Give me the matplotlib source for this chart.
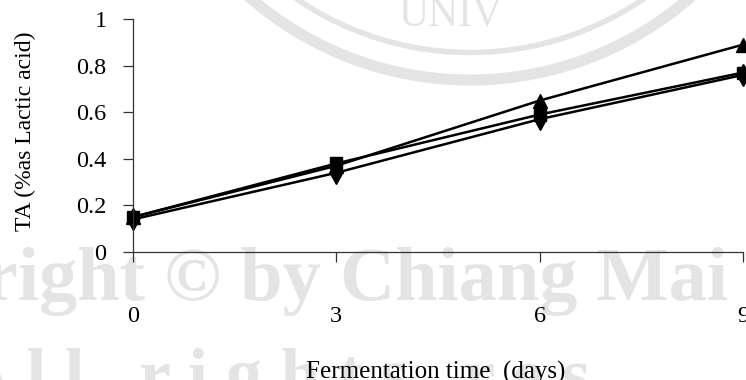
import numpy as np
import matplotlib.pyplot as plt
from matplotlib.patches import Arc

# TA over fermentation time, three treatments
days = [0, 3, 6, 9]
ta_tri = [0.15, 0.37, 0.65, 0.89]
ta_sq = [0.15, 0.38, 0.59, 0.77]
ta_dia = [0.14, 0.34, 0.57, 0.76]

yticks = [0, 0.2, 0.4, 0.6, 0.8, 1]
ytick_labels = ["0", "0.2", "0.4", "0.6", "0.8", "1"]

W, H = 746, 380
plt.rcParams['font.family'] = ['Liberation Serif', 'DejaVu Serif']

fig = plt.figure(figsize=(W / 100, H / 100), dpi=100)

# background watermark
wm = '#e4e4e4'
bg = fig.add_axes([0, 0, 1, 1], zorder=0)
bg.set_xlim(0, W)
bg.set_ylim(H, 0)
bg.axis('off')
bg.add_patch(Arc((470, -255), 670, 670, theta1=0, theta2=180, lw=8, color=wm))
bg.add_patch(Arc((470, -255), 615, 615, theta1=0, theta2=180, lw=4, color=wm))
bg.text(450, -4, "UNIV", ha='center', va='top', fontsize=30, color=wm)
bg.text(-190, 300, "Copyright \u00a9 by Chiang Mai", ha='left', va='baseline',
        fontsize=55, fontweight='bold', color=wm)
bg.text(-40, 398, "A l l   r i g h t s   r e s", ha='left', va='baseline',
        fontsize=52, fontweight='bold', color=wm)

ax = fig.add_axes([133 / W, 1 - 252 / H, 610 / W, 233 / H], zorder=1)
ax.patch.set_alpha(0)

ax.plot(days, ta_tri, color='black', lw=1.8, marker='^', ms=10, clip_on=False)
ax.plot(days, ta_sq, color='black', lw=1.8, marker='s', ms=9, clip_on=False)
ax.plot(days, ta_dia, color='black', lw=1.8, marker='d', ms=11, clip_on=False)

ax.set_xlim(0, 9)
ax.set_ylim(0, 1)
ax.set_xticks(days)
ax.set_xticklabels([str(d) for d in days])
ax.set_yticks(yticks)
ax.set_yticklabels(ytick_labels)

for s in ['top', 'right']:
    ax.spines[s].set_visible(False)
for s in ['left', 'bottom']:
    ax.spines[s].set_linewidth(0.9)
    ax.spines[s].set_color('#333333')
ax.tick_params(axis='both', direction='out', length=7, width=0.9, color='#333333',
               labelsize=17.5)
ax.tick_params(axis='x', pad=32)
ax.tick_params(axis='y', pad=12)

fig.text(436 / W, 1 - 372 / H, "Fermentation time  (days)", ha='center', va='center',
         fontsize=18)
fig.text(25 / W, 1 - 131 / H, "TA (%as Lactic acid)", ha='center', va='center',
         rotation=90, fontsize=17)

fig.savefig("out.png", dpi=100)
